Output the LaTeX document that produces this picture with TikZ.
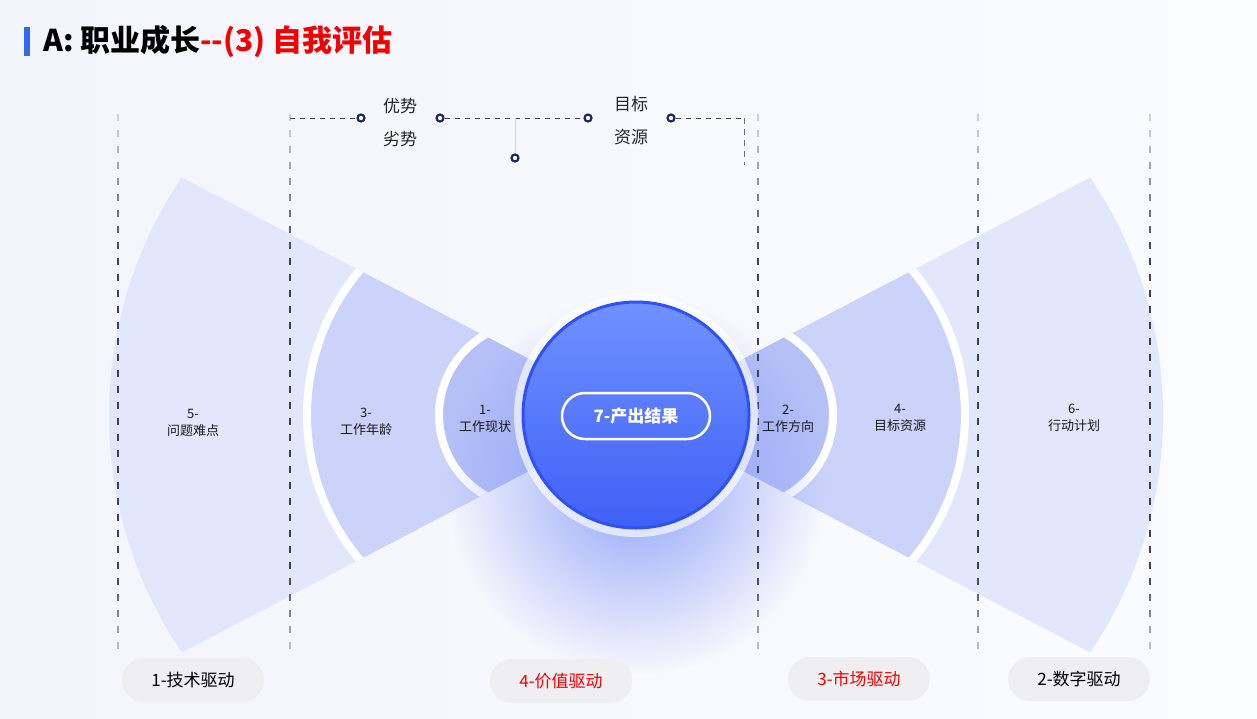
\documentclass[tikz,border=0pt]{standalone}
\usepackage{fontspec}
\setmainfont{Noto Sans CJK SC}
\usetikzlibrary{positioning, fadings, calc}

\definecolor{bgleft}{HTML}{F3F5FC}
\definecolor{bgright}{HTML}{FBFCFE}
\definecolor{fanouter}{HTML}{E3E7FC}
\definecolor{fanmid}{HTML}{CBD3FA}
\definecolor{faninner}{HTML}{B5C0F7}
\definecolor{coretop}{HTML}{6F91FE}
\definecolor{corebot}{HTML}{3F60F6}
\definecolor{coreline}{HTML}{2E51F4}
\definecolor{guidedark}{HTML}{3A4165}
\definecolor{guidelight}{HTML}{CDD1DC}
\definecolor{dotnavy}{HTML}{1F2B57}
\definecolor{pillgray}{HTML}{EFEFF1}
\definecolor{titlered}{HTML}{F00000}
\definecolor{titlebar}{HTML}{2F6BF0}
\definecolor{glowblue}{HTML}{7F95F8}

\tikzfading[name=glowfade, inner color=transparent!15, outer color=transparent!100]

\tikzset{
  fanlabel/.style={align=center, font=\fontsize{13}{17}\selectfont, text=black!90},
  toplabel/.style={font=\fontsize{17}{20}\selectfont, text=black!85},
  drivepill/.style={fill=pillgray, rounded corners=22pt, minimum width=142pt, minimum height=44pt, font=\fontsize{17}{20}\selectfont},
  joint/.style={circle, draw=dotnavy, fill=white, line width=2.2pt, inner sep=0pt, minimum size=7pt},
  bracket/.style={dotnavy!90, dash pattern=on 5pt off 5pt, line width=0.9pt},
  gapline/.style={white, line width=8pt},
}

\begin{document}
\begin{tikzpicture}[x=1pt, y=-1pt]
    \useasboundingbox (0,0) rectangle (1257,718);
    \shade[left color=bgleft, right color=bgright] (0,0) rectangle (1257,718);

    % title
    \fill[titlebar] (24,27) rectangle (30,56);
    \node[anchor=west, inner sep=0pt, font=\bfseries\fontsize{30}{33}\selectfont] (title) at (43,41) {A: 职业成长\textcolor{titlered}{-{}-(3) 自我评估}};

    \coordinate (core) at (636,415);

    % bow tie fans, arcs centred 104 off the core
    \foreach \side/\dx in {0/104,180/-104}{
        \begin{scope}
            \clip (core) -- ($(core)+(\side-27.6:700)$) -- ($(core)+(\side+27.6:700)$) -- cycle;
            \coordinate (arcc) at ($(core)+(\dx,0)$);
            \fill[fanouter] (arcc) circle[radius=423];
            \fill[fanmid] (arcc) circle[radius=221];
            \draw[gapline] (arcc) circle[radius=225];
            \fill[faninner] (arcc) circle[radius=89];
            \draw[gapline] (arcc) circle[radius=93];
        \end{scope}
    }

    % glow under the core
    \fill[glowblue, path fading=glowfade] (636,485) circle[radius=190];

    % guide lines
    \foreach \gx in {118,290,758,978,1150}{
        \foreach \gy in {114,130,...,650}{
            \pgfmathtruncatemacro\mixk{max(0,min(100,(\gy-120)*0.75,(655-\gy)*1.2))}
            \draw[guidedark!\mixk!guidelight, line width=1.1pt] (\gx,\gy) -- (\gx,\gy+7);
        }
    }

    % top bracket
    \coordinate (brL) at (290,118);
    \coordinate (brR) at (744,118);
    \coordinate (brRend) at (744,165);
    \coordinate (brM) at (515,118);
    \node[joint] (prosL) at (361,118) {};
    \node[joint] (prosR) at (440,118) {};
    \node[joint] (goalL) at (588,118) {};
    \node[joint] (goalR) at (671,118) {};
    \node[joint] (stem) at (515,158) {};
    \draw[bracket] (brL) -- (prosL);
    \draw[bracket] (prosR) -- (goalL);
    \draw[bracket] (goalR) -- (brR);
    \draw[guidelight!40!dotnavy, dash pattern=on 6pt off 5pt, line width=0.9pt] (brR) -- (brRend);
    \draw[guidelight, line width=0.8pt] (brM) -- (stem);

    \node[toplabel] (pros) at (400,106) {优势};
    \node[toplabel] (cons) at (400,139) {劣势};
    \node[toplabel] (goal) at (631,104) {目标};
    \node[toplabel] (asset) at (631,137) {资源};

    % core
    \fill[white, opacity=0.65] (core) circle[radius=122];
    \node[circle, minimum size=226pt, inner sep=0pt, top color=coretop, bottom color=corebot, draw=coreline, line width=3pt] (hub) at (core) {};
    \node[draw=white, line width=2.5pt, rounded corners=23pt, minimum width=148pt, minimum height=46pt, text=white, font=\bfseries\fontsize{17}{20}\selectfont] (result) at (636,416) {7-产出结果};

    % fan labels
    \node[fanlabel] (f5) at (193,423) {5-\\问题难点};
    \node[fanlabel] (f3) at (366,422) {3-\\工作年龄};
    \node[fanlabel] (f1) at (485,419) {1-\\工作现状};
    \node[fanlabel] (f2) at (788,419) {2-\\工作方向};
    \node[fanlabel] (f4) at (900,418) {4-\\目标资源};
    \node[fanlabel] (f6) at (1074,418) {6-\\行动计划};

    % drivers
    \node[drivepill] (d1) at (193,680) {1-技术驱动};
    \node[drivepill, text=titlered] (d4) at (561,681) {4-价值驱动};
    \node[drivepill, text=titlered] (d3) at (859,679) {3-市场驱动};
    \node[drivepill] (d2) at (1079,679) {2-数字驱动};
\end{tikzpicture}
\end{document}
